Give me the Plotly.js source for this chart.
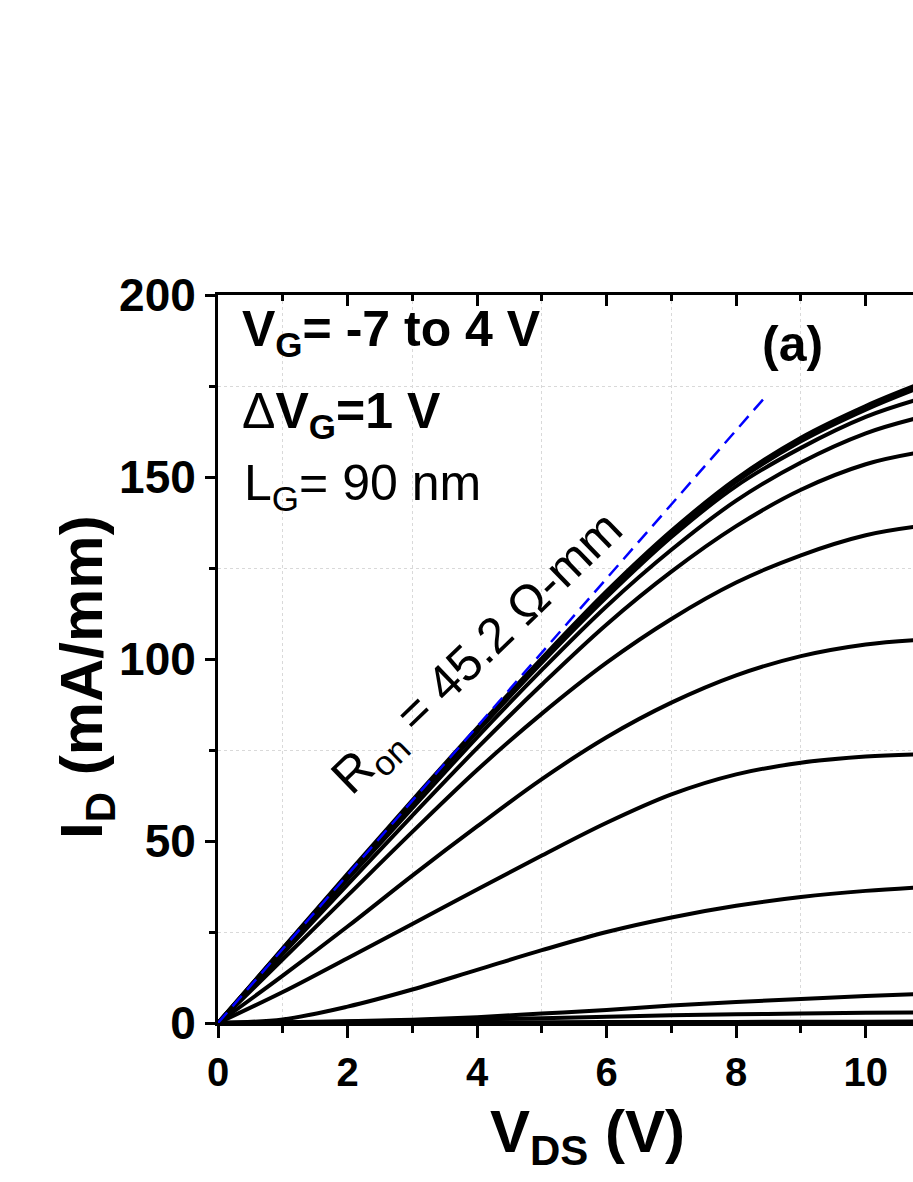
<!DOCTYPE html>
<html>
<head>
<meta charset="utf-8">
<script src="https://cdn.plot.ly/plotly-3.0.1.min.js"></script>
<style>html,body{margin:0;padding:0;background:#fff;overflow:hidden;}</style>
</head>
<body>
<div id="chart" style="width:913px;height:1182px;"></div>
<script>
// Drain voltage sample points (V)
const vds = [0, 1, 2, 3, 4, 5, 6, 7, 8, 9, 10, 10.75];
// Drain current (mA/mm) for each gate voltage
const id_vg_p4 = [0, 20.5, 41.0, 61.2, 81.0, 100.2, 118.6, 135.2, 149.5, 160.8, 169.5, 175.0];
const id_vg_p3 = [0, 20.4, 40.7, 60.8, 80.5, 99.7, 118.0, 134.5, 148.7, 159.8, 168.5, 174.0];
const id_vg_p2 = [0, 20.2, 40.3, 60.3, 80.0, 99.0, 117.0, 133.5, 147.5, 158.0, 166.5, 171.0];
const id_vg_p1 = [0, 19.8, 39.5, 59.0, 78.5, 97.0, 114.5, 130.0, 143.5, 154.0, 162.0, 166.0];
const id_vg_0  = [0, 19.0, 38.0, 57.0, 75.5, 93.0, 109.5, 124.0, 136.5, 146.5, 153.5, 156.5];
const id_vg_m1 = [0, 17.5, 35.0, 52.5, 69.5, 85.0, 99.0, 111.0, 121.0, 128.5, 134.0, 136.3];
const id_vg_m2 = [0, 13.0, 26.5, 40.5, 54.0, 67.0, 78.5, 88.0, 95.5, 100.8, 104.0, 105.2];
const id_vg_m3 = [0, 8.5, 17.8, 27.2, 36.7, 46.0, 55.0, 62.8, 68.3, 71.5, 73.2, 73.8];
const id_vg_m4 = [0, 1.0, 4.5, 9.2, 14.6, 20.0, 25.0, 29.0, 32.2, 34.6, 36.3, 37.2];
const id_vg_m5 = [0, 0.2, 0.5, 0.9, 1.6, 2.6, 3.6, 4.8, 5.8, 6.6, 7.4, 7.9];
const id_vg_m6 = [0, 0.15, 0.4, 0.7, 1.0, 1.3, 1.7, 2.1, 2.4, 2.6, 2.8, 2.9];
const id_vg_m7 = [0, 0.05, 0.1, 0.15, 0.2, 0.22, 0.25, 0.28, 0.3, 0.33, 0.36, 0.4];
const gateLabels = ['4 V','3 V','2 V','1 V','0 V','-1 V','-2 V','-3 V','-4 V','-5 V','-6 V','-7 V'];
const curves = [id_vg_p4, id_vg_p3, id_vg_p2, id_vg_p1, id_vg_0, id_vg_m1, id_vg_m2, id_vg_m3, id_vg_m4, id_vg_m5, id_vg_m6, id_vg_m7];
// Ron fit line (dashed blue)
const ronX = [0, 8.45];
const ronY = [0, 172];

const FONT = 'Liberation Sans, Arial, Helvetica, sans-serif';

const traces = curves.map((c, i) => ({
  x: vds, y: c, type: 'scatter', mode: 'lines', name: 'V_G = ' + gateLabels[i],
  line: {color: '#000', width: 4, shape: 'spline', smoothing: 1},
  showlegend: false, hoverinfo: 'skip'
}));
traces.push({
  x: ronX, y: ronY, xaxis: 'x2', yaxis: 'y', type: 'scatter', mode: 'lines',
  line: {color: '#0000ff', width: 2.5, dash: '14px,8px'}, showlegend: false, hoverinfo: 'skip'
});

const gridStyle = {showgrid: true, gridcolor: '#d9d9d9', gridwidth: 1, griddash: '3px,3px'};

const layout = {
  width: 913, height: 1182,
  margin: {l: 218, r: 0, t: 295, b: 159},
  paper_bgcolor: '#fff', plot_bgcolor: '#fff',
  font: {family: FONT, color: '#000'},
  xaxis: {
    range: [0, 10.73], tick0: 0, dtick: 2, showline: true, linewidth: 3, linecolor: '#000',
    ticks: 'outside', ticklen: 12, tickwidth: 3, tickcolor: '#000',
    showgrid: false, zeroline: false,
    tickfont: {family: FONT, size: 40, color: '#000', weight: 'bold'},
    minor: Object.assign({tick0: 0, dtick: 1, ticks: 'outside', ticklen: 7, tickwidth: 3, tickcolor: '#000'}, gridStyle)
  },
  xaxis2: {
    overlaying: 'x', side: 'top', anchor: 'y', range: [0, 10.73], tick0: 0, dtick: 2,
    showline: true, linewidth: 3, linecolor: '#000', ticks: 'inside', ticklen: 11, tickwidth: 3, tickcolor: '#000',
    showticklabels: false, showgrid: false, zeroline: false,
    minor: {tick0: 0, dtick: 1, ticks: 'inside', ticklen: 6, tickwidth: 3, tickcolor: '#000', showgrid: false}
  },
  yaxis: {
    range: [0, 200], tick0: 0, dtick: 50, showline: true, linewidth: 3, linecolor: '#000',
    ticks: 'outside', ticklen: 10, tickwidth: 3, tickcolor: '#000',
    showgrid: false, zeroline: false,
    tickfont: {family: FONT, size: 46, color: '#000', weight: 'bold'},
    minor: Object.assign({tick0: 0, dtick: 25, ticks: 'outside', ticklen: 6, tickwidth: 3, tickcolor: '#000'}, gridStyle)
  },
  annotations: [
    {xref: 'paper', yref: 'paper', x: 0.0317, y: 0.948, xanchor: 'left', yanchor: 'middle', showarrow: false,
     text: '<b>V<sub>G</sub>= -7 to 4 V</b>', font: {family: FONT, size: 50, color: '#000'}},
    {xref: 'paper', yref: 'paper', x: 0.0317, y: 0.8365, xanchor: 'left', yanchor: 'middle', showarrow: false,
     text: 'Δ<b>V<sub>G</sub>=1 V</b>', font: {family: FONT, size: 50, color: '#000'}},
    {xref: 'paper', yref: 'paper', x: 0.0345, y: 0.7376, xanchor: 'left', yanchor: 'middle', showarrow: false,
     text: 'L<sub>G</sub>= 90 nm', font: {family: FONT, size: 50, color: '#000'}},
    {xref: 'paper', yref: 'paper', x: 0.826, y: 0.933, xanchor: 'center', yanchor: 'middle', showarrow: false,
     text: '<b>(a)</b>', font: {family: FONT, size: 50, color: '#000'}},
    {xref: 'paper', yref: 'paper', x: 0.376, y: 0.5055, xanchor: 'center', yanchor: 'middle', showarrow: false,
     textangle: -44, text: 'R<sub>on</sub> = 45.2 Ω-mm', font: {family: FONT, size: 50, color: '#000'}},
    {xref: 'paper', yref: 'paper', x: (587 - 218) / 695, y: -0.155, xanchor: 'center', yanchor: 'middle', showarrow: false,
     text: '<b>V<sub>DS</sub> (V)</b>', font: {family: FONT, size: 60, color: '#000'}},
    {xref: 'paper', yref: 'paper', x: (86 - 218) / 695, y: (1023 - 677) / 728, xanchor: 'center', yanchor: 'middle', showarrow: false,
     textangle: -90, text: '<b>I<sub>D</sub> (mA/mm)</b>', font: {family: FONT, size: 60, color: '#000'}}
  ]
};

Plotly.newPlot('chart', traces, layout, {staticPlot: true, displayModeBar: false});
</script>
</body>
</html>
